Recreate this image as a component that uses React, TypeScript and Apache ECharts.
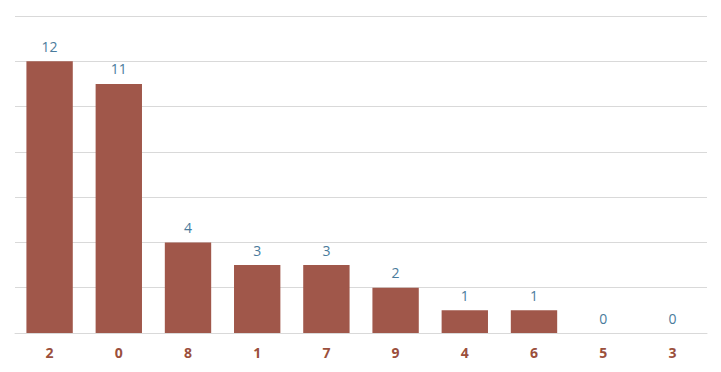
import React, { useEffect, useRef } from "react";
import * as echarts from "echarts";

const categories = ["2", "0", "8", "1", "7", "9", "4", "6", "5", "3"];
const values = [12, 11, 4, 3, 3, 2, 1, 1, 0, 0];

export default function App() {
  const ref = useRef<HTMLDivElement>(null);
  useEffect(() => {
    const chart = echarts.init(ref.current!, null, { renderer: "svg" });
    chart.setOption({
      animation: false,
      grid: { left: 15, right: 14, top: 16, bottom: 39, containLabel: false },
      xAxis: {
        type: "category",
        data: categories,
        axisLine: { lineStyle: { color: "#d9d9d9", width: 1 } },
        axisTick: { show: false },
        axisLabel: {
          color: "#9b4f3c",
          fontWeight: "bold",
          fontSize: 14,
          fontFamily: "Open Sans",
          margin: 12,
        },
      },
      yAxis: {
        type: "value",
        min: 0,
        max: 14,
        interval: 2,
        axisLabel: { show: false },
        axisLine: { show: false },
        axisTick: { show: false },
        splitLine: { lineStyle: { color: "#d9d9d9", width: 1 } },
      },
      series: [
        {
          type: "bar",
          data: values,
          barCategoryGap: "33%",
          itemStyle: { color: "#a0574a" },
          label: {
            show: true,
            position: "top",
            distance: 8,
            color: "#4a7b9c",
            fontSize: 14,
            fontFamily: "Open Sans",
          },
        },
      ],
    });
    return () => chart.dispose();
  }, []);
  return <div ref={ref} style={{ width: 721, height: 372, position: "absolute", left: 0, top: 0 }} />;
}
